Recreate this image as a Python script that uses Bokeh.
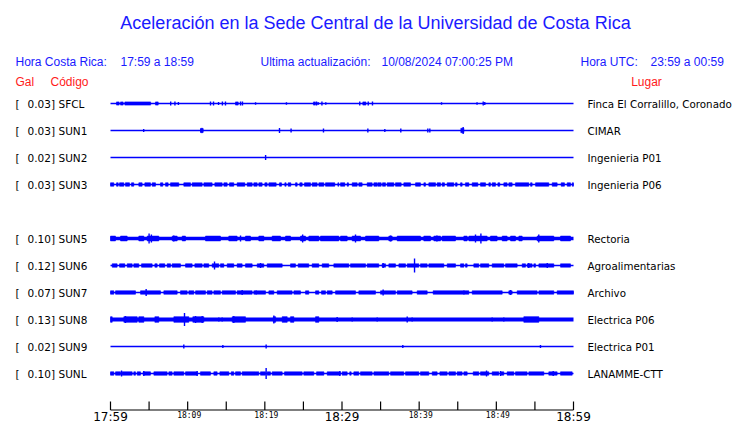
from bokeh.plotting import figure
from bokeh.models import Range1d
from bokeh.core.properties import value
from bokeh.embed import file_html
from bokeh.resources import INLINE

# ---------------- data ----------------
TITLE = "Aceleración en la Sede Central de la Universidad de Costa Rica"
HORA_CR = "17:59 a 18:59"
HORA_UTC = "23:59 a 00:59"
ULTIMA = "10/08/2024 07:00:25 PM"

CODES = ["SFCL", "SUN1", "SUN2", "SUN3", "SUN5", "SUN6", "SUN7", "SUN8", "SUN9", "SUNL"]
GAL = ["0.03", "0.03", "0.02", "0.03", "0.10", "0.12", "0.07", "0.13", "0.02", "0.10"]
LUGAR = ["Finca El Corralillo, Coronado", "CIMAR", "Ingenieria P01", "Ingenieria P06",
         "Rectoria", "Agroalimentarias", "Archivo", "Electrica P06", "Electrica P01", "LANAMME-CTT"]
# slot of each station in the list (slot 4 = SUN4, sin datos)
SLOT = [0, 1, 2, 3, 5, 6, 7, 8, 9, 10]

# time axis: minutes after 17:59
T_START, T_END = 0, 60
TICK_MIN = [0, 5, 10, 15, 20, 25, 30, 35, 40, 45, 50, 55, 60]
BIG_LABEL_MIN = [0, 30, 60]
BIG_LABELS = ["17:59", "18:29", "18:59"]
SMALL_LABEL_MIN = [10, 20, 40, 50]
SMALL_LABELS = ["18:09", "18:19", "18:39", "18:49"]

# envelope amplitude of noise bands (relative units) per station
BAND_AMP = [1.6, 2.2, 0, 1.7, 2.4, 1.7, 1.7, 2.8, 0, 1.7]

# active (noisy) segments, (start, end) in minutes
SEG_SFCL = [(0.78, 1.12), (1.3, 1.64), (1.86, 5.2), (5.83, 6.18), (16.2, 16.55), (26.3, 26.55), (32.7, 33.1)]
SEG_SUN1 = [(11.7, 11.96), (45.4, 45.8)]
SEG_SUN2 = []
SEG_SUN3 = [(0.0, 0.43), (0.78, 1.0), (1.17, 1.73), (1.94, 2.46), (2.72, 3.02), (3.67, 4.1), (4.45, 5.18),
            (5.4, 5.83), (6.48, 6.78), (7.13, 7.47), (7.78, 8.85), (9.5, 10.37), (10.58, 11.88), (12.1, 13.17),
            (13.52, 14.47), (14.69, 15.12), (15.42, 15.98), (16.41, 17.41), (17.71, 18.36), (18.57, 19.01),
            (19.22, 19.65), (20.0, 20.3), (20.52, 21.47), (21.9, 22.16), (22.59, 22.76), (23.02, 23.37),
            (23.97, 24.19), (24.53, 24.84), (25.14, 25.92), (26.13, 26.78), (27.0, 27.65), (27.86, 29.07),
            (29.46, 29.59), (29.81, 30.37), (30.67, 30.84), (31.32, 31.97), (32.18, 32.61), (33.26, 33.91),
            (34.13, 34.56), (34.64, 35.08), (35.25, 35.64), (35.85, 36.72), (36.93, 37.67), (38.01, 38.88),
            (39.53, 40.17), (40.61, 40.82), (41.25, 42.12), (42.33, 42.77), (42.98, 43.28), (43.63, 44.49),
            (44.71, 44.92), (45.36, 45.57), (46.0, 46.44), (46.87, 47.6), (47.95, 48.6), (49.03, 49.24),
            (49.46, 49.89), (50.2, 50.45), (50.97, 51.4), (51.62, 52.05), (52.48, 54.21), (54.43, 54.64),
            (55.08, 56.8), (57.24, 57.88), (58.4, 58.83), (59.18, 59.61), (59.83, 60.0)]
SEG_SUN5 = [(0.0, 0.65), (1.3, 2.16), (3.67, 4.32), (4.75, 6.26), (8.0, 8.64), (9.29, 9.72), (12.31, 14.25),
            (15.33, 16.41), (17.49, 18.14), (19.22, 19.87), (20.95, 22.03), (22.68, 23.33), (24.62, 25.27),
            (25.7, 27.0), (27.21, 29.59), (29.81, 30.67), (31.32, 32.4), (33.05, 34.77), (36.07, 36.5),
            (37.15, 40.17), (40.6, 41.47), (41.9, 42.77), (42.98, 44.71), (45.79, 46.22), (46.44, 48.81),
            (49.24, 50.1), (50.76, 51.4), (51.84, 52.48), (52.92, 53.35), (55.29, 57.45), (58.32, 59.61)]
SEG_SUN6 = [(0.22, 0.86), (1.17, 1.86), (2.16, 2.81), (3.02, 3.67), (4.02, 5.4), (5.75, 6.05), (6.35, 7.04),
            (7.34, 7.78), (7.99, 9.07), (9.72, 10.58), (10.93, 11.88), (12.1, 12.74), (13.17, 14.04),
            (14.25, 14.69), (15.12, 15.98), (16.41, 17.06), (17.49, 18.36), (19.01, 19.87), (20.3, 22.25),
            (23.33, 23.97), (24.32, 25.7), (26.13, 27.0), (27.43, 28.29), (28.94, 30.89), (31.1, 33.05),
            (33.26, 34.77), (35.2, 35.64), (36.07, 36.93), (37.37, 38.23), (38.45, 39.96), (40.17, 41.04),
            (41.25, 43.2), (43.63, 44.71), (45.36, 45.79), (46.0, 46.22), (47.08, 47.73), (47.95, 49.03),
            (49.46, 50.97), (51.19, 52.7), (53.35, 53.78), (53.99, 54.64), (54.86, 55.08), (55.51, 57.45),
            (58.32, 59.61)]
SEG_SUN7 = [(0.0, 0.43), (0.65, 3.24), (3.89, 6.48), (6.91, 8.64), (9.07, 9.94), (10.15, 10.8), (11.02, 12.31),
            (12.53, 13.17), (13.39, 14.25), (14.47, 16.2), (16.41, 18.36), (18.57, 20.09), (20.52, 21.17),
            (21.6, 23.54), (23.76, 24.62), (25.27, 25.7), (26.57, 27.0), (27.34, 27.86), (28.08, 28.73),
            (29.16, 31.75), (32.18, 34.34), (34.99, 36.93), (37.15, 39.09), (39.74, 41.04), (41.81, 46.44),
            (46.87, 50.76), (51.62, 52.05), (52.7, 55.29), (55.51, 57.45), (57.88, 60.0)]
SEG_SUN8 = [(0.0, 0.22), (1.73, 3.46), (3.67, 4.32), (5.75, 6.26), (8.21, 10.15), (10.67, 12.1),
            (15.77, 17.49), (21.1, 21.4), (22.25, 22.9), (23.33, 23.76), (26.57, 27.0), (53.56, 55.51)]
SEG_SUN9 = []
SEG_SUNL = [(0.0, 0.43), (0.65, 1.3), (1.51, 2.81), (3.02, 3.24), (3.46, 3.89), (4.23, 5.18), (5.62, 7.34),
            (7.56, 7.99), (8.21, 9.5), (9.72, 11.23), (11.66, 12.96), (13.39, 13.82), (14.17, 15.34),
            (15.64, 15.98), (16.2, 16.85), (17.06, 19.22), (19.44, 20.09), (20.3, 20.73), (20.95, 22.25),
            (22.55, 24.84), (25.05, 26.35), (26.7, 27.65), (28.08, 29.8), (30.02, 30.67), (31.0, 31.19),
            (31.53, 32.18), (32.4, 33.91), (34.13, 36.07), (36.29, 38.01), (38.23, 39.96), (40.17, 41.25),
            (41.69, 42.33), (42.68, 43.63), (43.85, 44.71), (44.92, 45.57), (45.79, 46.22), (47.0, 47.73),
            (47.95, 49.03), (49.46, 50.32), (50.54, 50.97), (51.4, 52.27), (52.48, 53.99), (54.21, 56.16),
            (56.8, 57.88), (58.32, 59.83)]

# isolated peaks, (minute, relative amplitude)
SPK_SFCL = [(7.8, 2), (8.35, 2), (8.8, 1.5), (12.96, 2), (13.35, 2), (14.0, 1.5), (14.5, 2), (14.9, 2),
            (16.85, 2), (17.1, 2), (18.8, 1.2), (22.8, 1.2), (26.7, 2), (26.9, 1.5), (27.4, 2), (27.9, 1.2),
            (32.3, 2), (33.4, 2), (33.95, 2), (42.9, 1.2), (47.5, 1.2), (48.3, 2), (48.5, 1.5)]
SPK_SUN1 = [(4.3, 1.5), (11.7, 2), (11.96, 2), (21.9, 2.5), (23.4, 2), (27.6, 2), (33.35, 2), (35.55, 1.5),
            (37.62, 2), (41.12, 2), (41.38, 2), (45.7, 3.5)]
SPK_SUN2 = [(20.1, 2.5)]
SPK_SUN3 = []
SPK_SUN5 = [(5.0, 5), (5.3, 4), (8.2, 3), (16.85, 3), (19.7, 2.5), (24.9, 4), (31.75, 4), (36.3, 3),
            (42.3, 3), (47.3, 4), (48.0, 5), (55.5, 4)]
SPK_SUN6 = [(13.48, 4), (19.44, 2.5), (35.33, 2.5), (39.4, 7), (54.2, 2.5), (56.6, 2.5)]
SPK_SUN7 = [(4.62, 3.5), (17.06, 2.5), (18.88, 2), (35.33, 3), (45.8, 2), (51.84, 2.5)]
SPK_SUN8 = [(1.94, 3.5), (9.59, 6.5), (11.02, 3.5), (11.88, 3.5), (14.04, 2), (14.47, 2), (15.98, 3.5),
            (21.17, 4), (26.8, 2.5), (29.37, 2.5), (31.32, 2), (34.56, 2), (38.45, 3), (39.09, 2),
            (49.46, 2), (50.97, 2), (54.64, 2.5), (55.29, 2.5)]
SPK_SUN9 = [(9.5, 2), (14.56, 1.5), (20.17, 2), (37.88, 1.5), (55.72, 1.5)]
SPK_SUNL = [(1.43, 3), (4.32, 2.5), (11.23, 2.5), (20.17, 5.5), (29.72, 2.5), (48.73, 3), (50.54, 2.5),
            (57.37, 2.5)]

SEGMENTS = [SEG_SFCL, SEG_SUN1, SEG_SUN2, SEG_SUN3, SEG_SUN5, SEG_SUN6, SEG_SUN7, SEG_SUN8, SEG_SUN9, SEG_SUNL]
SPIKES = [SPK_SFCL, SPK_SUN1, SPK_SUN2, SPK_SUN3, SPK_SUN5, SPK_SUN6, SPK_SUN7, SPK_SUN8, SPK_SUN9, SPK_SUNL]

# ---------------- style / layout ----------------
BASE_W = [1.3, 1.3, 1.3, 1.3, 3.4, 1.3, 1.5, 3.8, 1.3, 1.5]
TRACE = "#0000ff"
BLUE_TXT = "#1a1aff"
RED_TXT = "#ff1a1a"

W, H = 740, 423
PXM = 463.0 / 60.0        # pixels per minute
ROWPX = 27.0              # pixels per row
X0PX, Y0PX = 110.0, 103.0  # canvas pixel of (minute 0, row 0)
AMP = 1.0 / ROWPX         # rows per amplitude unit


def X(px):
    return (px - X0PX) / PXM


def Y(py):
    return -(py - Y0PX) / ROWPX


p = figure(width=W, height=H, output_backend="svg", toolbar_location=None,
           x_range=Range1d(-X0PX / PXM, (W - X0PX) / PXM),
           y_range=Range1d(-(H - Y0PX) / ROWPX, Y0PX / ROWPX),
           x_axis_type=None, y_axis_type=None, min_border=0)
p.grid.visible = False
p.outline_line_color = None
p.background_fill_color = "white"
p.border_fill_color = "white"


def txt(x, y, s, font="Liberation Sans", size="12px", color="black", align="left"):
    p.text(x=x, y=y, text=s, text_font=value(font), text_font_size=size,
           text_color=color, text_align=align, text_baseline="middle")


# header
txt([X(375)], [Y(22)], [TITLE], size="18px", color=BLUE_TXT, align="center")
txt([X(15), X(120), X(260), X(381), X(580), X(650)], [Y(61)] * 6,
    ["Hora Costa Rica:", HORA_CR, "Ultima actualización:", ULTIMA, "Hora UTC:", HORA_UTC],
    color=BLUE_TXT)
txt([X(15), X(50)], [Y(81)] * 2, ["Gal", "Código"], color=RED_TXT)
txt([X(646)], [Y(81)], ["Lugar"], color=RED_TXT, align="center")

# station rows
rows = [-s for s in SLOT]
txt([X(15)] * len(rows), rows, ["["] * len(rows), font="DejaVu Sans", size="10.5px")
txt([X(27)] * len(rows), rows, [g + "]" for g in GAL], font="DejaVu Sans", size="10.5px")
txt([X(58)] * len(rows), rows, CODES, font="DejaVu Sans", size="10.5px")
txt([X(587)] * len(rows), rows, LUGAR, font="DejaVu Sans", size="10.3px")

# traces
for y0, segs, spks, band, bw in zip(rows, SEGMENTS, SPIKES, BAND_AMP, BASE_W):
    p.segment(x0=[T_START], y0=[y0], x1=[T_END], y1=[y0], line_color=TRACE, line_width=bw)
    if segs:
        p.quad(left=[a for a, b in segs], right=[b for a, b in segs],
               bottom=[y0 - band * AMP] * len(segs), top=[y0 + band * AMP] * len(segs),
               fill_color=TRACE, line_color=TRACE, line_width=0.6)
    if spks:
        p.segment(x0=[t for t, a in spks], x1=[t for t, a in spks],
                  y0=[y0 - a * AMP for t, a in spks], y1=[y0 + a * AMP for t, a in spks],
                  line_color=TRACE, line_width=1.4)

# time axis
ya = Y(409.5)
p.segment(x0=[T_START], y0=[ya], x1=[T_END], y1=[ya], line_color="black", line_width=1.2)
p.segment(x0=TICK_MIN, x1=TICK_MIN, y0=[ya] * len(TICK_MIN), y1=[Y(401)] * len(TICK_MIN),
          line_color="black", line_width=1.2)
txt(BIG_LABEL_MIN, [Y(416.5)] * 3, BIG_LABELS, font="DejaVu Sans", size="12px", align="center")
txt([m + 0.2 for m in SMALL_LABEL_MIN], [Y(414.8)] * 4, SMALL_LABELS, font="DejaVu Sans Mono",
    size="8px", align="center")

open("out.html", "w").write(file_html(p, INLINE))
